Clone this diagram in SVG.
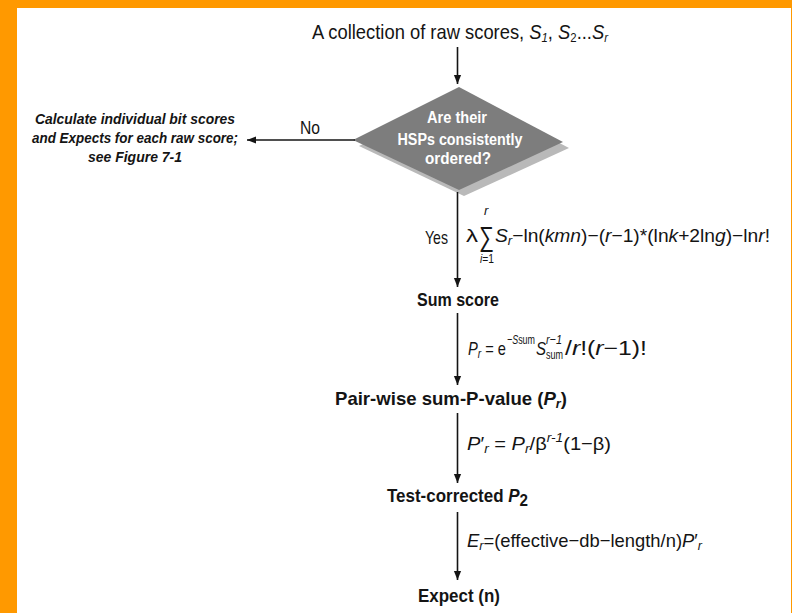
<svg xmlns="http://www.w3.org/2000/svg" width="792" height="613" viewBox="0 0 792 613">
<defs>
<style>
text{font-family:"Liberation Sans","DejaVu Sans",sans-serif;fill:#141414}
.t{font-size:21px}
.n{font-size:19px;font-weight:bold}
.f{font-size:19px}
.s{font-size:13px}
.i{font-style:italic}
.d{font-size:16px;font-weight:bold;fill:#fff}
.l{font-size:15px;font-style:italic;font-weight:bold}
.c{stroke:#141414;stroke-width:1.6;fill:none}
</style>
<marker id="a" viewBox="0 0 10 10" refX="10" refY="5" markerWidth="9" markerHeight="9" markerUnits="userSpaceOnUse" orient="auto">
<path d="M0,1 L10,5 L0,9 z" fill="#141414"/>
</marker>
</defs>
<rect x="0" y="0" width="792" height="613" fill="#ff9900"/>
<rect x="17" y="8" width="774" height="605" fill="#ffffff"/>

<g id="title">
<text class="t" x="312" y="39" textLength="296" lengthAdjust="spacingAndGlyphs">A collection of raw scores, <tspan class="i">S</tspan><tspan class="i s" dy="3">1</tspan><tspan dy="-3">, </tspan><tspan class="i">S</tspan><tspan class="s" dy="3">2</tspan><tspan dy="-3">...</tspan><tspan class="i">S</tspan><tspan class="i s" dy="3">r</tspan></text>
</g>

<g id="decision">
<polygon points="359,146 464,93 569,148 464,196" fill="#b9b9b9"/>
<polygon points="353,140 459,87 563,142 459,190" fill="#7d7d7d"/>
<text class="d" x="457" y="123" text-anchor="middle" textLength="60" lengthAdjust="spacingAndGlyphs">Are their</text>
<text class="d" x="460" y="145" text-anchor="middle" textLength="125" lengthAdjust="spacingAndGlyphs">HSPs consistently</text>
<text class="d" x="458" y="164" text-anchor="middle" textLength="66" lengthAdjust="spacingAndGlyphs">ordered?</text>
</g>

<g id="individual">
<text class="l" x="135" y="124" text-anchor="middle" textLength="200" lengthAdjust="spacingAndGlyphs">Calculate individual bit scores</text>
<text class="l" x="135" y="143" text-anchor="middle" textLength="206" lengthAdjust="spacingAndGlyphs">and Expects for each raw score;</text>
<text class="l" x="135" y="162" text-anchor="middle" textLength="94" lengthAdjust="spacingAndGlyphs">see Figure 7-1</text>
</g>

<g id="sum-score">
<text class="n" x="417" y="306" textLength="82" lengthAdjust="spacingAndGlyphs">Sum score</text>
</g>

<g id="pairwise">
<text class="n" x="335" y="405" textLength="232" lengthAdjust="spacingAndGlyphs">Pair-wise sum-P-value (<tspan class="i">P</tspan><tspan class="i s" dy="3">r</tspan><tspan dy="-3">)</tspan></text>
</g>

<g id="test-corrected">
<text class="n" x="387" y="502" textLength="141" lengthAdjust="spacingAndGlyphs">Test-corrected <tspan class="i">P</tspan><tspan font-size="17" dy="4">2</tspan></text>
</g>

<g id="expect">
<text class="n" x="418" y="602" textLength="82" lengthAdjust="spacingAndGlyphs">Expect (n)</text>
</g>

<g id="connectors">
<line class="c" x1="457.5" y1="47" x2="457.5" y2="84" marker-end="url(#a)"/>
<line class="c" x1="355" y1="140" x2="247" y2="140" marker-end="url(#a)"/>
<line class="c" x1="457.5" y1="192" x2="457.5" y2="287" marker-end="url(#a)"/>
<line class="c" x1="457.5" y1="313" x2="457.5" y2="385" marker-end="url(#a)"/>
<line class="c" x1="457.5" y1="413" x2="457.5" y2="483" marker-end="url(#a)"/>
<line class="c" x1="457.5" y1="512" x2="457.5" y2="580" marker-end="url(#a)"/>
<text class="f" x="300" y="134" textLength="20" lengthAdjust="spacingAndGlyphs">No</text>
<text class="f" x="425" y="244" textLength="23" lengthAdjust="spacingAndGlyphs">Yes</text>

<text class="f" x="466" y="242" textLength="12" lengthAdjust="spacingAndGlyphs">λ</text>
<text x="479" y="246" font-size="28" textLength="15" lengthAdjust="spacingAndGlyphs">∑</text>
<text class="s i" x="484" y="215">r</text>
<text class="s" x="480" y="263" textLength="14" lengthAdjust="spacingAndGlyphs"><tspan class="i">i</tspan>=1</text>
<text class="f" x="495" y="242" textLength="275" lengthAdjust="spacingAndGlyphs"><tspan class="i">S</tspan><tspan class="i s" dy="3">r</tspan><tspan dy="-3">−ln(</tspan><tspan class="i">kmn</tspan>)−(<tspan class="i">r</tspan>−1)*(ln<tspan class="i">k</tspan>+2ln<tspan class="i">g</tspan>)−ln<tspan class="i">r</tspan>!</text>

<text class="f" x="468" y="355" textLength="38" lengthAdjust="spacingAndGlyphs"><tspan class="i">P</tspan><tspan class="i s" dy="3">r</tspan><tspan dy="-3"> = e</tspan></text>
<text class="s" x="507" y="344" textLength="28" lengthAdjust="spacingAndGlyphs"><tspan class="i">−S</tspan>sum</text>
<text class="f i" x="536" y="355" textLength="10" lengthAdjust="spacingAndGlyphs">S</text>
<text class="s i" x="546" y="344" textLength="16" lengthAdjust="spacingAndGlyphs">r−1</text>
<text class="s" x="546" y="359" textLength="17" lengthAdjust="spacingAndGlyphs">sum</text>
<text x="565" y="355" font-size="20" textLength="82" lengthAdjust="spacingAndGlyphs">/<tspan class="i">r</tspan>!(<tspan class="i">r</tspan>−1)!</text>

<text class="f" x="467" y="450" textLength="144" lengthAdjust="spacingAndGlyphs"><tspan class="i">P</tspan>′<tspan class="i s" dy="3">r</tspan><tspan dy="-3"> = </tspan><tspan class="i">P</tspan><tspan class="i s" dy="3">r</tspan><tspan dy="-3">/β</tspan><tspan class="i s" dy="-8">r-1</tspan><tspan dy="8">(1−β)</tspan></text>

<text class="f" x="467" y="547" textLength="235" lengthAdjust="spacingAndGlyphs"><tspan class="i">E</tspan><tspan class="i s" dy="3">r</tspan><tspan dy="-3">=(effective−db−length/n)</tspan><tspan class="i">P</tspan>′<tspan class="i s" dy="3">r</tspan></text>
</g>
</svg>
